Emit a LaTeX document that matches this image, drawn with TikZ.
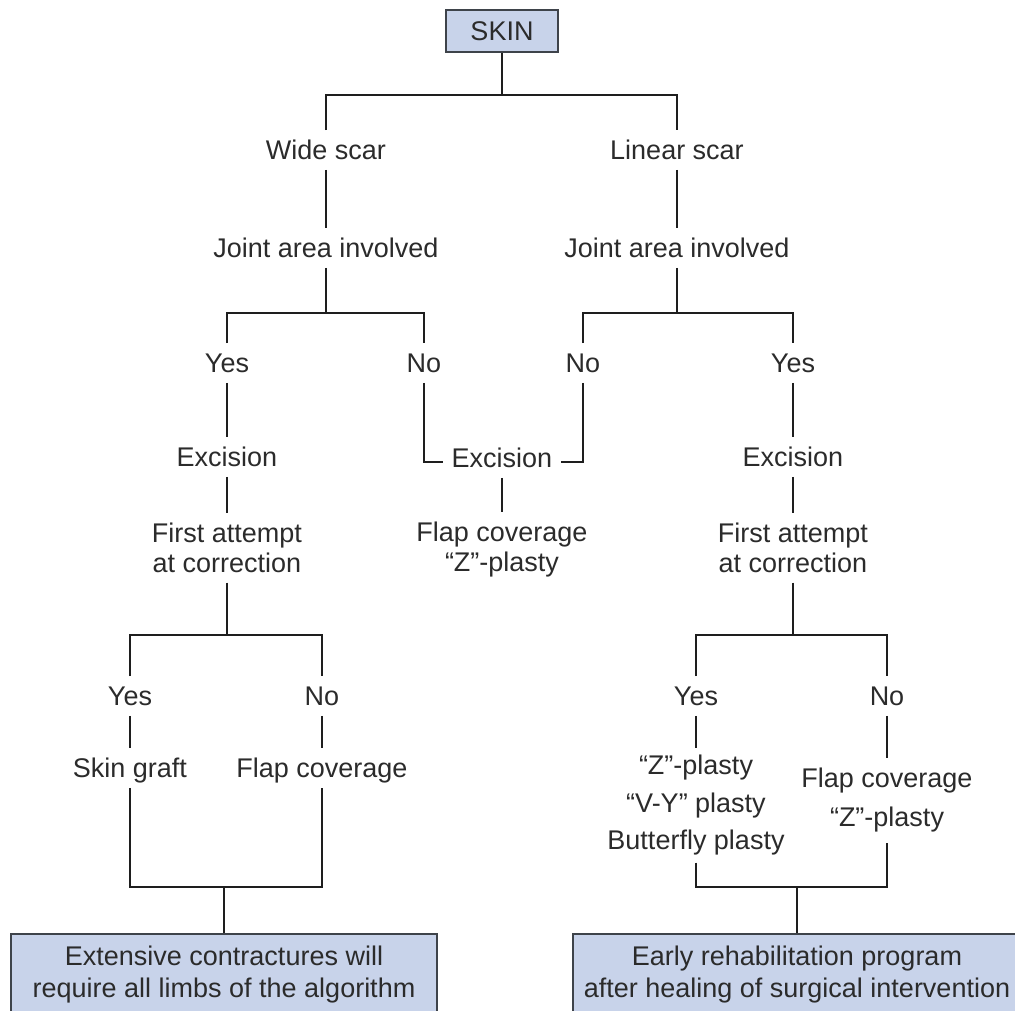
\documentclass[tikz,border=0pt]{standalone}
\usepackage{fontspec}
\setmainfont{Liberation Sans}
\definecolor{boxfill}{HTML}{C8D3EA}
\definecolor{boxline}{HTML}{3E434A}
\definecolor{txtgray}{HTML}{2B2B2B}
\definecolor{linecol}{HTML}{1E1E1E}
\begin{document}
\begin{tikzpicture}[x=1pt,y=-1pt,
  lbl/.style={font=\fontsize{27}{30}\selectfont, text=txtgray, inner xsep=3pt,
    inner ysep=10pt, text height=19.5pt, text depth=0pt},
  mlbl/.style={font=\fontsize{27}{#1}\selectfont, text=txtgray, align=center,
    inner xsep=3pt, inner ysep=10pt, anchor=north},
  mlbl/.default=29.5,
  box/.style={draw=boxline, fill=boxfill, line width=1.6pt, text=txtgray,
    font=\fontsize{27}{32}\selectfont, align=center},
  conn/.style={draw=linecol, line width=2.8pt}
]
\useasboundingbox (0,0) rectangle (1015,1010);
\clip (0,0) rectangle (1015,1010);

% root
\node[box, minimum width=112pt, minimum height=42pt, inner sep=0pt] (skin) at (502,31) {SKIN};

% first level
\node[lbl] (wide) at (326,150) {Wide scar};
\node[lbl] (lin)  at (677,150) {Linear scar};
\node[lbl] (jl)   at (326,248) {Joint area involved};
\node[lbl] (jr)   at (677,248) {Joint area involved};

% joint area answers
\node[lbl] (yl) at (227,363) {Yes};
\node[lbl] (nl) at (424,363) {No};
\node[lbl] (nr) at (583,363) {No};
\node[lbl] (yr) at (793,363) {Yes};

% excisions
\node[lbl] (exl) at (227,457) {Excision};
\node[lbl, inner xsep=9pt] (exm) at (502,458) {Excision};
\node[lbl] (exr) at (793,457) {Excision};

\node[mlbl] (fal) at (227,513) {First attempt\\at correction};
\node[mlbl] (flm) at (502,512) {Flap coverage\\“Z”-plasty};
\node[mlbl] (far) at (793,513) {First attempt\\at correction};

% left lower branch
\node[lbl] (yll) at (130,696) {Yes};
\node[lbl] (nll) at (322,696) {No};
\node[lbl] (sg)  at (130,768) {Skin graft};
\node[lbl] (fcl) at (322,768) {Flap coverage};

% right lower branch
\node[lbl] (yrr) at (696,696) {Yes};
\node[lbl] (nrr) at (887,696) {No};
\node[mlbl=37.5, inner ysep=7pt] (zp) at (696,748) {“Z”-plasty\\“V-Y” plasty\\Butterfly plasty};
\node[mlbl=39] (fcr) at (887,758) {Flap coverage\\“Z”-plasty};

% outcome boxes
\node[box, anchor=north, minimum width=426pt, inner ysep=12pt] (bl) at (224,933)
  {Extensive contractures will\\require all limbs of the algorithm};
\node[box, anchor=north, minimum width=448pt, inner ysep=12pt] (br) at (797,933)
  {Early rehabilitation program\\after healing of surgical intervention};

% junction points
\coordinate (t0)  at (502,95);
\coordinate (tl)  at (326,313);
\coordinate (tr)  at (677,313);
\coordinate (tll) at (227,635);
\coordinate (trr) at (793,635);
\coordinate (bl0) at (224,887);
\coordinate (br0) at (797,887);

% connectors
\draw[conn] (skin.south) -- (t0);
\draw[conn] (wide.north) |- (t0) -| (lin.north);
\draw[conn] (wide.south) -- (jl.north);
\draw[conn] (lin.south) -- (jr.north);
\draw[conn] (jl.south) -- (tl);
\draw[conn] (jr.south) -- (tr);
\draw[conn] (yl.north) |- (tl) -| (nl.north);
\draw[conn] (nr.north) |- (tr) -| (yr.north);

\draw[conn] (yl.south) -- (exl.north);
\draw[conn] (exl.south) -- (fal.north);
\draw[conn] (nl.south) |- ([yshift=-4pt]exm.west);
\draw[conn] (nr.south) |- ([yshift=-4pt]exm.east);
\draw[conn] (exm.south) -- (flm.north);
\draw[conn] (yr.south) -- (exr.north);
\draw[conn] (exr.south) -- (far.north);

\draw[conn] (fal.south) -- (tll);
\draw[conn] (yll.north) |- (tll) -| (nll.north);
\draw[conn] (yll.south) -- (sg.north);
\draw[conn] (nll.south) -- (fcl.north);
\draw[conn] (sg.south) |- (bl0) -| (fcl.south);
\draw[conn] (bl0) -- (bl.north);

\draw[conn] (far.south) -- (trr);
\draw[conn] (yrr.north) |- (trr) -| (nrr.north);
\draw[conn] (yrr.south) -- (zp.north);
\draw[conn] (nrr.south) -- (fcr.north);
\draw[conn] (zp.south) |- (br0) -| (fcr.south);
\draw[conn] (br0) -- (br.north);
\end{tikzpicture}
\end{document}
